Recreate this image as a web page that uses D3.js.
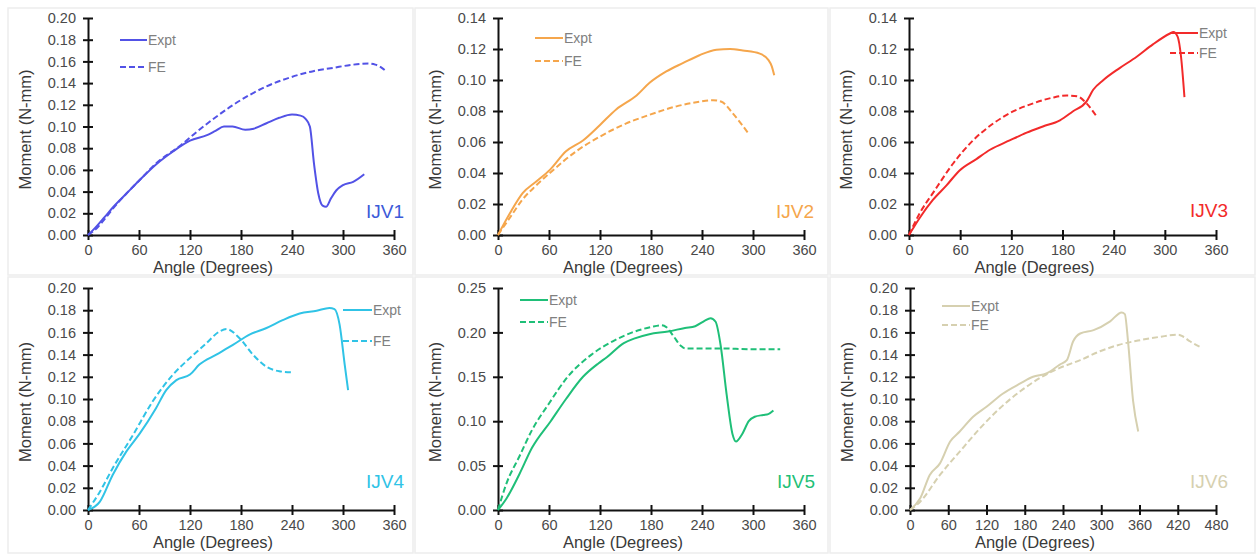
<!DOCTYPE html>
<html><head><meta charset="utf-8">
<script src="https://cdn.jsdelivr.net/npm/d3@7"></script>
<style>
html,body{margin:0;padding:0;background:#fff;}
svg text{font-family:"Liberation Sans",Arial,sans-serif;}
</style></head>
<body><svg id="chart" width="1259" height="558"></svg>
<script>
// ---------- data ----------
const panelNames = ["IJV1","IJV2","IJV3","IJV4","IJV5","IJV6"];
const seriesNames = ["Expt","FE"];
const xTicks360 = [0,60,120,180,240,300,360];
const xTicks480 = [0,60,120,180,240,300,360,420,480];
const yTicks020 = [0,0.02,0.04,0.06,0.08,0.10,0.12,0.14,0.16,0.18,0.20];
const yTicks014 = [0,0.02,0.04,0.06,0.08,0.10,0.12,0.14];
const yTicks025 = [0,0.05,0.10,0.15,0.20,0.25];

const ijv1ExptAngle  = [0,10,20,30,45,60,80,100,120,140,150,160,170,185,195,210,225,240,250,256,261,266,271,276,280,286,292,300,312,325];
const ijv1ExptMoment = [0,0.008,0.017,0.026,0.038,0.050,0.065,0.077,0.087,0.092,0.096,0.100,0.100,0.097,0.098,0.103,0.108,0.111,0.110,0.107,0.100,0.065,0.038,0.027,0.026,0.034,0.041,0.046,0.049,0.056];
const ijv1FeAngle    = [0,10,20,30,45,60,80,108,131,151,171,190,210,237,265,288,312,330,338,344,349];
const ijv1FeMoment   = [0,0.006,0.015,0.025,0.038,0.050,0.066,0.082,0.097,0.109,0.120,0.129,0.137,0.145,0.151,0.154,0.157,0.158,0.157,0.155,0.152];

const ijv2ExptAngle  = [0,14,29,45,61,80,100,120,139,163,178,198,218,237,257,273,288,308,318,322,325];
const ijv2ExptMoment = [0,0.014,0.027,0.0345,0.042,0.054,0.061,0.071,0.081,0.090,0.098,0.1055,0.111,0.116,0.1195,0.120,0.119,0.117,0.113,0.109,0.103];
const ijv2FeAngle    = [0,15,29,45,61,92,120,151,178,210,237,253,263,276,294];
const ijv2FeMoment   = [0,0.012,0.023,0.032,0.040,0.054,0.0635,0.072,0.0775,0.083,0.086,0.087,0.086,0.0786,0.066];

const ijv3ExptAngle  = [0,12.5,28,44,59,79,95,118,138,157,177,192,208,216,228,247,267,286,306,310,315,319,323];
const ijv3ExptMoment = [0,0.011,0.0226,0.032,0.0415,0.049,0.055,0.061,0.066,0.070,0.074,0.0797,0.086,0.0937,0.100,0.1077,0.115,0.123,0.130,0.131,0.128,0.115,0.089];
const ijv3FeAngle    = [0,12.5,28,52,75,99,122,146,169,185,198,208,220];
const ijv3FeMoment   = [0,0.014,0.027,0.0463,0.061,0.072,0.0797,0.085,0.0887,0.090,0.0894,0.085,0.0765];

const ijv4ExptAngle  = [0,14,29,45,61,80,92,104,120,131,151,171,190,210,229,249,269,284,290,296,302,306];
const ijv4ExptMoment = [0,0.0075,0.0316,0.0526,0.069,0.0917,0.108,0.117,0.122,0.131,0.140,0.149,0.158,0.164,0.171,0.177,0.1795,0.182,0.181,0.167,0.131,0.108];
const ijv4FeAngle    = [0,14,29,53,76,100,120,139,155,163,178,194,210,225,241];
const ijv4FeMoment   = [0,0.0165,0.0376,0.0677,0.0977,0.122,0.137,0.150,0.161,0.163,0.155,0.140,0.129,0.125,0.124];

const ijv5ExptAngle  = [0,10,25,40,62,80,100,118,128,148,160,178,200,220,232,243,250,256,262,269,276,280,287,295,302,312,318,324];
const ijv5ExptMoment = [0,0.013,0.040,0.070,0.100,0.125,0.150,0.165,0.172,0.188,0.193,0.198,0.201,0.205,0.207,0.213,0.216,0.212,0.185,0.130,0.085,0.077,0.085,0.100,0.105,0.107,0.108,0.112];
const ijv5FeAngle    = [0,10,25,40,60,82,110,135,158,180,192,198,207,215,220,260,300,332];
const ijv5FeMoment   = [0,0.030,0.060,0.090,0.120,0.150,0.175,0.190,0.200,0.206,0.208,0.206,0.195,0.185,0.182,0.182,0.181,0.181];

const ijv6ExptAngle  = [0,16,31,47,63,78,99,120,146,173,193,214,235,246,256,267,288,314,332,337,342,350,358];
const ijv6ExptMoment = [0,0.0105,0.0316,0.042,0.0617,0.0707,0.084,0.093,0.105,0.114,0.120,0.123,0.131,0.135,0.152,0.159,0.162,0.170,0.178,0.1765,0.152,0.098,0.0707];
const ijv6FeAngle    = [0,16,47,78,110,141,173,204,235,267,298,329,361,392,421,429,439,455];
const ijv6FeMoment   = [0,0.0075,0.0316,0.0526,0.0737,0.0917,0.107,0.119,0.128,0.135,0.143,0.149,0.153,0.156,0.158,0.156,0.152,0.147];

// ---------- layout / style ----------
const panels = [
  {name:panelNames[0], color:"#5252e6", label:"#3c5ad8", xDom:[0,360], xT:xTicks360, yDom:[0,0.20], yT:yTicks020,
   ex:[ijv1ExptAngle,ijv1ExptMoment], fe:[ijv1FeAngle,ijv1FeMoment],
   box:[8,8,413,275], ax:[88,394,235,18], leg:[120,147,40,67], lab:[404,218]},
  {name:panelNames[1], color:"#f5a64c", label:"#f5a64c", xDom:[0,360], xT:xTicks360, yDom:[0,0.14], yT:yTicks014,
   ex:[ijv2ExptAngle,ijv2ExptMoment], fe:[ijv2FeAngle,ijv2FeMoment],
   box:[415,8,828,275], ax:[498,804,235,18], leg:[535,563,38,61], lab:[814,218]},
  {name:panelNames[2], color:"#f22a2a", label:"#f22a2a", xDom:[0,360], xT:xTicks360, yDom:[0,0.14], yT:yTicks014,
   ex:[ijv3ExptAngle,ijv3ExptMoment], fe:[ijv3FeAngle,ijv3FeMoment],
   box:[830,8,1255,275], ax:[909,1216,235,18], leg:[1170,1198,33,53], lab:[1228,217]},
  {name:panelNames[3], color:"#30c3e6", label:"#30c3e6", xDom:[0,360], xT:xTicks360, yDom:[0,0.20], yT:yTicks020,
   ex:[ijv4ExptAngle,ijv4ExptMoment], fe:[ijv4FeAngle,ijv4FeMoment],
   box:[8,277,413,553], ax:[88,394,510,288], leg:[343,372,310,341], lab:[404,488]},
  {name:panelNames[4], color:"#1fbf78", label:"#1fbf78", xDom:[0,360], xT:xTicks360, yDom:[0,0.25], yT:yTicks025,
   ex:[ijv5ExptAngle,ijv5ExptMoment], fe:[ijv5FeAngle,ijv5FeMoment],
   box:[415,277,828,553], ax:[498,804,510,288], leg:[520,548,300,322], lab:[815,488]},
  {name:panelNames[5], color:"#d6d0b0", label:"#d6d0b0", xDom:[0,480], xT:xTicks480, yDom:[0,0.20], yT:yTicks020,
   ex:[ijv6ExptAngle,ijv6ExptMoment], fe:[ijv6FeAngle,ijv6FeMoment],
   box:[830,277,1255,553], ax:[910,1216,510,288], leg:[942,970,306,325], lab:[1228,488]}
];

const svg = d3.select("#chart");
svg.append("rect").attr("width",1259).attr("height",558).attr("fill","#fff");

panels.forEach(p => {
  const g = svg.append("g");
  g.append("rect").attr("x",p.box[0]).attr("y",p.box[1])
    .attr("width",p.box[2]-p.box[0]).attr("height",p.box[3]-p.box[1])
    .attr("fill","none").attr("stroke","#ededed").attr("stroke-width",1.5);

  const x = d3.scaleLinear().domain(p.xDom).range([p.ax[0],p.ax[1]]);
  const y = d3.scaleLinear().domain(p.yDom).range([p.ax[2],p.ax[3]]);

  // axes
  const xa = g.append("g").attr("transform",`translate(0,${p.ax[2]})`)
    .call(d3.axisBottom(x).tickValues(p.xT).tickSize(0).tickPadding(10).tickFormat(d3.format("d")));
  xa.select(".domain").attr("stroke","#111").attr("stroke-width",2);
  xa.selectAll(".tick line").remove();
  xa.selectAll(".tick").append("line").attr("y1",-5).attr("y2",5).attr("stroke","#111").attr("stroke-width",2);
  xa.selectAll("text").attr("font-size",14.5).attr("fill","#4a4a4a").attr("font-family","Liberation Sans, Arial, sans-serif");

  const ya = g.append("g").attr("transform",`translate(${p.ax[0]},0)`)
    .call(d3.axisLeft(y).tickValues(p.yT).tickSize(0).tickPadding(12).tickFormat(d3.format(".2f")));
  ya.select(".domain").attr("stroke","#111").attr("stroke-width",2);
  ya.selectAll(".tick line").remove();
  ya.selectAll(".tick").append("line").attr("x1",-5).attr("x2",5).attr("stroke","#111").attr("stroke-width",2);
  ya.selectAll("text").attr("font-size",14.5).attr("fill","#4a4a4a").attr("font-family","Liberation Sans, Arial, sans-serif");

  // titles
  g.append("text").attr("x",(p.ax[0]+p.ax[1])/2-28).attr("y",p.ax[2]+38)
    .attr("text-anchor","middle").attr("font-size",16.5).attr("fill","#3a3a3a").text("Angle (Degrees)");
  g.append("text").attr("transform",`translate(${p.ax[0]-57},${(p.ax[2]+p.ax[3])/2+3}) rotate(-90)`)
    .attr("text-anchor","middle").attr("font-size",16.5).attr("fill","#3a3a3a").text("Moment (N-mm)");

  // lines
  const line = d3.line().x(d=>x(d[0])).y(d=>y(d[1])).curve(d3.curveMonotoneX);
  const exData = p.ex[0].map((a,i)=>[a,p.ex[1][i]]);
  const feData = p.fe[0].map((a,i)=>[a,p.fe[1][i]]);
  g.append("path").datum(feData).attr("d",line).attr("fill","none")
    .attr("stroke",p.color).attr("stroke-width",2).attr("stroke-dasharray","6,3");
  g.append("path").datum(exData).attr("d",line).attr("fill","none")
    .attr("stroke",p.color).attr("stroke-width",2);

  // legend
  seriesNames.forEach((s,i) => {
    const ly = i===0 ? p.leg[2] : p.leg[3];
    g.append("line").attr("x1",p.leg[0]).attr("x2",p.leg[1]).attr("y1",ly).attr("y2",ly)
      .attr("stroke",p.color).attr("stroke-width",2).attr("stroke-dasharray", i===0 ? null : "6,3");
    g.append("text").attr("x",p.leg[1]+1).attr("y",ly+5).attr("font-size",14)
      .attr("fill","#808080").text(s);
  });

  // panel label
  g.append("text").attr("x",p.lab[0]).attr("y",p.lab[1]).attr("text-anchor","end")
    .attr("font-family","'Open Sans', sans-serif").attr("font-size",19)
    .attr("fill",p.label).text(p.name);
});
</script></body></html>
